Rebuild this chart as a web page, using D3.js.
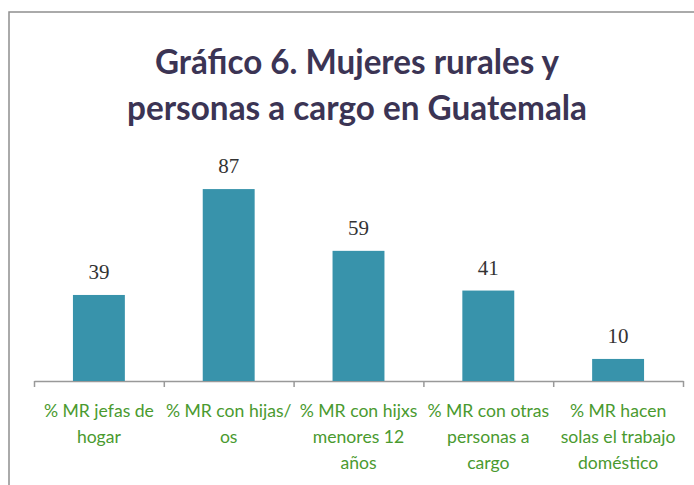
<!DOCTYPE html>
<html>
<head>
<meta charset="utf-8">
<script src="https://cdn.jsdelivr.net/npm/d3@7"></script>
<style>
  body { margin: 0; background: #fff; }
  svg { display: block; }
</style>
</head>
<body>
<div id="chart"></div>
<script>
var width = 694;
var height = 485;

// data
var categories = ["jefas", "hijas", "hijxs", "otras", "solas"];
var tickLabels = [
  ["% MR jefas de", "hogar"],
  ["% MR con hijas/", "os"],
  ["% MR con hijxs", "menores 12", "años"],
  ["% MR con otras", "personas a", "cargo"],
  ["% MR hacen", "solas el trabajo", "doméstico"]
];
var values = [39, 87, 59, 41, 10];
var titleLines = ["Gráfico 6. Mujeres rurales y", "personas a cargo en Guatemala"];

var barColor = "#3893ab";
var labelGreen = "#4a9a2f";
var titleColor = "#3b3454";

function start() {
  var svg = d3.select("#chart")
    .append("svg")
    .attr("width", width)
    .attr("height", height);

  // frame of the chart area (only left and top edges show)
  svg.append("rect")
    .attr("x", 9)
    .attr("y", 12)
    .attr("width", 720)
    .attr("height", 520)
    .attr("fill", "none")
    .attr("stroke", "#8f8f8f")
    .attr("stroke-width", 1.5);

  // title, two lines
  var titleWidths = [404, 460];
  svg.selectAll(".title")
    .data(titleLines)
    .enter()
    .append("text")
    .attr("class", "title")
    .attr("x", 357)
    .attr("y", function (d, i) { return 74 + i * 46; })
    .attr("text-anchor", "middle")
    .attr("font-family", "Lato, 'Open Sans', sans-serif")
    .attr("font-weight", "bold")
    .attr("font-size", 34)
    .attr("fill", titleColor)
    .attr("textLength", function (d, i) { return titleWidths[i]; })
    .attr("lengthAdjust", "spacingAndGlyphs")
    .text(function (d) { return d; });

  var xScale = d3.scaleBand()
    .domain(categories)
    .range([34, 683])
    .paddingInner(0.6)
    .paddingOuter(0.3);

  var yScale = d3.scaleLinear()
    .domain([0, 100])
    .range([381, 160.4]);

  // axis with ticks at the category boundaries
  var edgeScale = d3.scaleLinear().domain([0, categories.length]).range([34, 683]);
  var xAxis = svg.append("g")
    .attr("transform", "translate(0,381)")
    .call(d3.axisBottom(edgeScale)
      .tickValues(d3.range(categories.length + 1))
      .tickSize(6)
      .tickSizeOuter(0)
      .tickFormat(""));
  xAxis.select(".domain").attr("stroke", "#999").attr("stroke-width", 1.5);
  xAxis.selectAll(".tick line").attr("stroke", "#999").attr("stroke-width", 1.5);

  // bars
  svg.selectAll(".bar")
    .data(values)
    .enter()
    .append("rect")
    .attr("class", "bar")
    .attr("x", function (d, i) { return xScale(categories[i]); })
    .attr("y", function (d) { return yScale(d); })
    .attr("width", xScale.bandwidth())
    .attr("height", function (d) { return yScale(0) - yScale(d); })
    .attr("fill", barColor);

  // value labels
  svg.selectAll(".val")
    .data(values)
    .enter()
    .append("text")
    .attr("class", "val")
    .attr("x", function (d, i) { return xScale(categories[i]) + xScale.bandwidth() / 2; })
    .attr("y", function (d) { return yScale(d) - 16; })
    .attr("text-anchor", "middle")
    .attr("font-family", "'Liberation Serif', 'DejaVu Serif', serif")
    .attr("font-size", 21)
    .attr("fill", "#333")
    .text(function (d) { return d; });

  // category labels, wrapped as in the picture
  var catGroups = svg.selectAll(".cat")
    .data(tickLabels)
    .enter()
    .append("text")
    .attr("class", "cat")
    .attr("text-anchor", "middle")
    .attr("font-family", "Lato, 'Open Sans', sans-serif")
    .attr("font-size", 17.6)
    .attr("fill", labelGreen);

  catGroups.selectAll("tspan")
    .data(function (d, i) {
      return d.map(function (line) { return { line: line, i: i }; });
    })
    .enter()
    .append("tspan")
    .attr("x", function (d) { return xScale(categories[d.i]) + xScale.bandwidth() / 2; })
    .attr("y", function (d, j) { return 417 + j * 26; })
    .text(function (d) { return d.line; });
}

window.onload = start;
</script>
</body>
</html>
